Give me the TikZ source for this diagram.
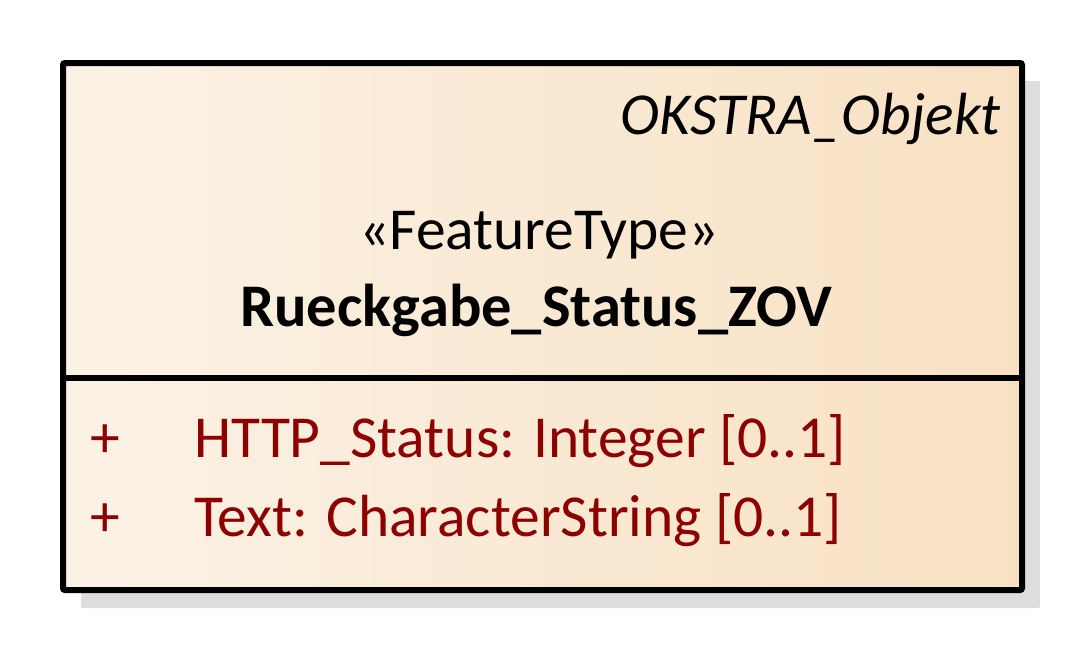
\documentclass[tikz,border=0pt]{standalone}
\usepackage{fontspec}
\setmainfont{Carlito}
\usetikzlibrary{shadows}
\definecolor{boxleft}{HTML}{FBF2E6}
\definecolor{boxright}{HTML}{F8E1C3}
\definecolor{shadowgray}{HTML}{DDDDDD}
\definecolor{attrred}{HTML}{8C0000}
\tikzset{
  classbox/.style={rectangle, draw=black, line width=6pt, left color=boxleft, right color=boxright,
    minimum width=959pt, minimum height=527pt, inner sep=0pt, anchor=north west, rounded corners=2pt,
    drop shadow={shadow xshift=18pt, shadow yshift=-18pt, fill=shadowgray, opacity=1, rounded corners=0pt}},
  divider/.style={line width=6pt},
  txt/.style={inner sep=0pt, font=\fontsize{59.5}{70}\selectfont},
  attr/.style={txt, text=attrred, anchor=base west}
}
\begin{document}
\begin{tikzpicture}[x=1pt,y=-1pt]
\useasboundingbox (0,0) rectangle (1080,648);
\node[classbox] (cls) at (60,60) {};
\draw[divider] (cls.west |- {(0,378)}) coordinate (dl) -- (cls.east |- {(0,378)}) coordinate (dr);
\node[txt, anchor=base east, font=\fontsize{59.5}{70}\selectfont\itshape] (parent) at (1001,134) {OKSTRA\_Objekt};
\node[txt, anchor=base] (stereo) at (539,249) {«FeatureType»};
\node[txt, anchor=base, font=\fontsize{60.5}{70}\selectfont\bfseries] (name) at (536,326) {Rueckgabe\_Status\_ZOV};
\node[attr] (p1) at (90,457) {+};
\node[attr] (a1) at (194,457) {HTTP\_Status: Integer [0..1]};
\node[attr] (p2) at (90,536) {+};
\node[attr] (a2) at (194,536) {Text: CharacterString [0..1]};
\end{tikzpicture}
\end{document}
